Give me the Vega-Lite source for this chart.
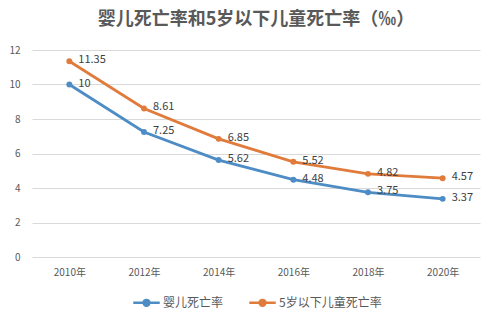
{
  "$schema": "https://vega.github.io/schema/vega-lite/v6.json",
  "width": 448,
  "height": 207,
  "autosize": "none",
  "padding": {"left": 32, "top": 50, "right": 19, "bottom": 63},
  "background": "white",
  "config": {
    "font": "Noto Sans CJK SC",
    "view": {"stroke": null},
    "axis": {"labelColor": "#595959", "labelFont": "Noto Sans CJK SC", "titleColor": "#595959"}
  },
  "title": {
    "text": "婴儿死亡率和5岁以下儿童死亡率（‰）",
    "fontSize": 18,
    "fontWeight": "bold",
    "color": "#595959",
    "anchor": "middle",
    "offset": 16,
    "font": "Noto Sans CJK SC"
  },
  "data": {
    "values": [
      {"year": "2010年", "series": "婴儿死亡率", "value": 10},
      {"year": "2012年", "series": "婴儿死亡率", "value": 7.25},
      {"year": "2014年", "series": "婴儿死亡率", "value": 5.62},
      {"year": "2016年", "series": "婴儿死亡率", "value": 4.48},
      {"year": "2018年", "series": "婴儿死亡率", "value": 3.75},
      {"year": "2020年", "series": "婴儿死亡率", "value": 3.37},
      {"year": "2010年", "series": "5岁以下儿童死亡率", "value": 11.35},
      {"year": "2012年", "series": "5岁以下儿童死亡率", "value": 8.61},
      {"year": "2014年", "series": "5岁以下儿童死亡率", "value": 6.85},
      {"year": "2016年", "series": "5岁以下儿童死亡率", "value": 5.52},
      {"year": "2018年", "series": "5岁以下儿童死亡率", "value": 4.82},
      {"year": "2020年", "series": "5岁以下儿童死亡率", "value": 4.57}
    ]
  },
  "encoding": {
    "x": {
      "field": "year",
      "type": "ordinal",
      "scale": {"type": "point", "padding": 0.5},
      "axis": {"title": null, "labelAngle": 0, "domain": false, "ticks": false, "labelFontSize": 10, "labelPadding": 10}
    },
    "y": {
      "field": "value",
      "type": "quantitative",
      "scale": {"domain": [0, 12]},
      "axis": {"title": null, "values": [0, 2, 4, 6, 8, 10, 12], "domain": false, "ticks": false, "gridColor": "#d9d9d9", "labelFontSize": 10, "labelPadding": 12}
    },
    "color": {
      "field": "series",
      "type": "nominal",
      "sort": ["婴儿死亡率", "5岁以下儿童死亡率"],
      "scale": {"domain": ["婴儿死亡率", "5岁以下儿童死亡率"], "range": ["#4d8cc4", "#e07b3c"]},
      "legend": {
        "title": null,
        "orient": "none",
        "legendX": 100,
        "legendY": 238,
        "direction": "horizontal",
        "symbolType": "M-1,0L-0.22,0M0.22,0L1,0M-0.22,0A0.22,0.22 0 1 1 0.22,0A0.22,0.22 0 1 1 -0.22,0",
        "symbolStrokeWidth": 2.5,
        "symbolSize": 700,
        "labelFontSize": 12,
        "labelColor": "#595959",
        "labelOffset": 2,
        "columnPadding": 20
      }
    }
  },
  "layer": [
    {"mark": {"type": "line", "strokeWidth": 2.8}},
    {"mark": {"type": "circle", "size": 35, "opacity": 1}, "encoding": {}},
    {
      "mark": {"type": "text", "align": "left", "baseline": "middle", "dx": 9, "dy": -1, "fontSize": 11, "color": "#404040"},
      "encoding": {"text": {"field": "value", "type": "quantitative"}, "color": {"value": "#404040"}}
    }
  ]
}
